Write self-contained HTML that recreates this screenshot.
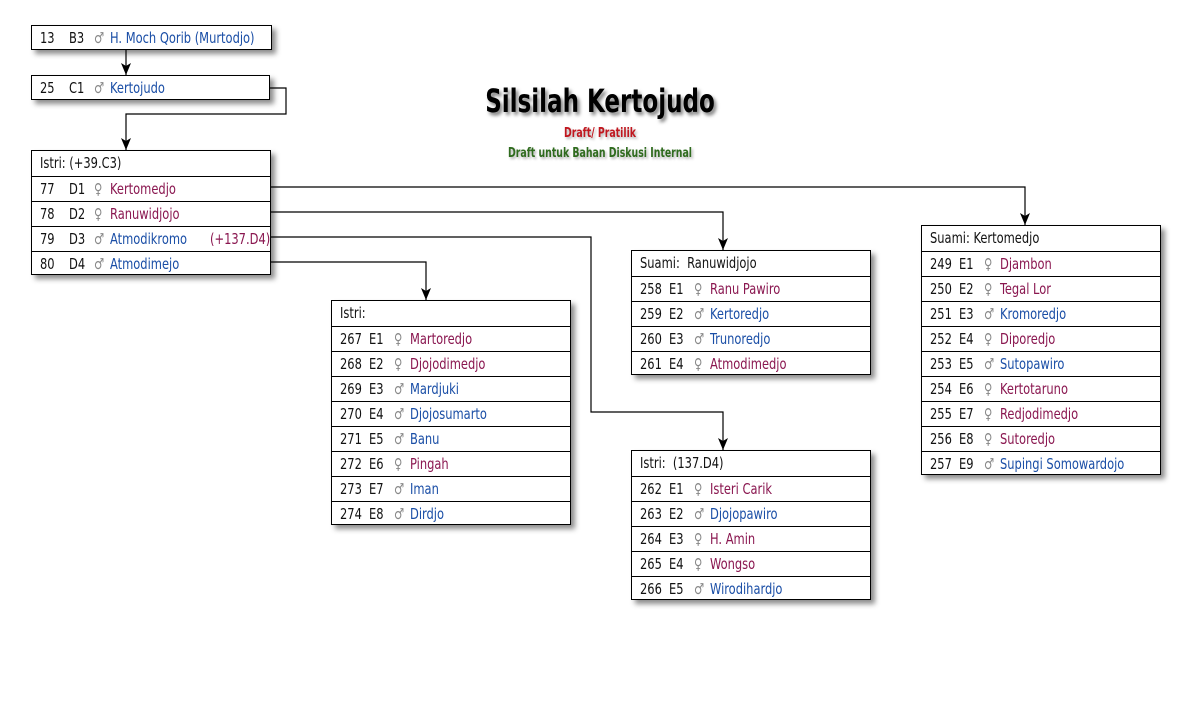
<!DOCTYPE html>
<html><head><meta charset="utf-8"><style>
body{margin:0;width:1200px;height:725px;background:#fff;position:relative;overflow:hidden;font-family:"DejaVu Sans Condensed","Liberation Sans Narrow","Liberation Sans",sans-serif;font-size:13px;}
.b{position:absolute;border:1px solid #000;background:#fff;box-shadow:4px 4px 5px rgba(0,0,0,.45);box-sizing:border-box;}
.r{height:25px;line-height:24px;border-top:1px solid #000;position:relative;white-space:nowrap;color:#111;box-sizing:border-box;}
.r:first-child{border-top:none;}
.r span{position:absolute;font-size:15px;transform:scaleX(.85);transform-origin:left center;}
.n{left:8px}.c{left:37px}.s{left:62px;color:#888}.nm{left:78px}
.m{color:#1a4ea6}.f{color:#8a1750}
.hh{left:8px}
svg{position:absolute;left:0;top:0}
.t{position:absolute;text-align:center;width:400px;left:400px;font-weight:bold}
</style></head><body>
<svg width="1200" height="725">
<defs><marker id="a" markerWidth="12" markerHeight="10" refX="12" refY="5" orient="auto" markerUnits="userSpaceOnUse"><path d="M0,0 L12,5 L0,10 L3,5 Z" fill="#000"/></marker></defs>
<g fill="none" stroke="#000" stroke-width="1.2">
<path d="M126,49 V75" marker-end="url(#a)"/>
<path d="M269,88 H286 V114 H126 V150" marker-end="url(#a)"/>
<path d="M270,187 H1025 V225" marker-end="url(#a)"/>
<path d="M270,212 H723 V250" marker-end="url(#a)"/>
<path d="M270,237 H591 V412 H723 V450" marker-end="url(#a)"/>
<path d="M270,262 H426 V300" marker-end="url(#a)"/>
</g></svg>
<div class="t" style="top:82px;font-size:32px;text-shadow:3px 3px 4px rgba(0,0,0,.5);transform:scaleX(0.8)">Silsilah Kertojudo</div>
<div class="t" style="top:126px;font-size:13px;color:#c0171f;text-shadow:2px 2px 3px rgba(0,0,0,.3);transform:scaleX(0.8)">Draft/ Pratilik</div>
<div class="t" style="top:146px;font-size:13px;color:#2f6b1e;text-shadow:2px 2px 3px rgba(0,0,0,.3);transform:scaleX(0.8)">Draft untuk Bahan Diskusi Internal</div>

<div class="b" style="left:31px;top:25px;width:241px;height:25px"><div class="r"><span class="n">13</span><span class="c">B3</span><span class="s">♂</span><span class="nm m">H. Moch Qorib (Murtodjo)</span></div></div>
<div class="b" style="left:31px;top:75px;width:239px;height:25px"><div class="r"><span class="n">25</span><span class="c">C1</span><span class="s">♂</span><span class="nm m">Kertojudo</span></div></div>

<div class="b" style="left:31px;top:150px;width:240px;height:125px">
<div class="r"><span class="hh">Istri: (+39.C3)</span></div>
<div class="r"><span class="n">77</span><span class="c">D1</span><span class="s">♀</span><span class="nm f">Kertomedjo</span></div>
<div class="r"><span class="n">78</span><span class="c">D2</span><span class="s">♀</span><span class="nm f">Ranuwidjojo</span></div>
<div class="r"><span class="n">79</span><span class="c">D3</span><span class="s">♂</span><span class="nm m">Atmodikromo</span><span class="f" style="left:178px">(+137.D4)</span></div>
<div class="r"><span class="n">80</span><span class="c">D4</span><span class="s">♂</span><span class="nm m">Atmodimejo</span></div>
</div>

<div class="b" style="left:331px;top:300px;width:240px;height:225px">
<div class="r"><span class="hh">Istri:</span></div>
<div class="r"><span class="n">267</span><span class="c">E1</span><span class="s">♀</span><span class="nm f">Martoredjo</span></div>
<div class="r"><span class="n">268</span><span class="c">E2</span><span class="s">♀</span><span class="nm f">Djojodimedjo</span></div>
<div class="r"><span class="n">269</span><span class="c">E3</span><span class="s">♂</span><span class="nm m">Mardjuki</span></div>
<div class="r"><span class="n">270</span><span class="c">E4</span><span class="s">♂</span><span class="nm m">Djojosumarto</span></div>
<div class="r"><span class="n">271</span><span class="c">E5</span><span class="s">♂</span><span class="nm m">Banu</span></div>
<div class="r"><span class="n">272</span><span class="c">E6</span><span class="s">♀</span><span class="nm f">Pingah</span></div>
<div class="r"><span class="n">273</span><span class="c">E7</span><span class="s">♂</span><span class="nm m">Iman</span></div>
<div class="r"><span class="n">274</span><span class="c">E8</span><span class="s">♂</span><span class="nm m">Dirdjo</span></div>
</div>

<div class="b" style="left:631px;top:250px;width:240px;height:125px">
<div class="r"><span class="hh">Suami:&nbsp; Ranuwidjojo</span></div>
<div class="r"><span class="n">258</span><span class="c">E1</span><span class="s">♀</span><span class="nm f">Ranu Pawiro</span></div>
<div class="r"><span class="n">259</span><span class="c">E2</span><span class="s">♂</span><span class="nm m">Kertoredjo</span></div>
<div class="r"><span class="n">260</span><span class="c">E3</span><span class="s">♂</span><span class="nm m">Trunoredjo</span></div>
<div class="r"><span class="n">261</span><span class="c">E4</span><span class="s">♀</span><span class="nm f">Atmodimedjo</span></div>
</div>

<div class="b" style="left:631px;top:450px;width:240px;height:150px">
<div class="r"><span class="hh">Istri:&nbsp; (137.D4)</span></div>
<div class="r"><span class="n">262</span><span class="c">E1</span><span class="s">♀</span><span class="nm f">Isteri Carik</span></div>
<div class="r"><span class="n">263</span><span class="c">E2</span><span class="s">♂</span><span class="nm m">Djojopawiro</span></div>
<div class="r"><span class="n">264</span><span class="c">E3</span><span class="s">♀</span><span class="nm f">H. Amin</span></div>
<div class="r"><span class="n">265</span><span class="c">E4</span><span class="s">♀</span><span class="nm f">Wongso</span></div>
<div class="r"><span class="n">266</span><span class="c">E5</span><span class="s">♂</span><span class="nm m">Wirodihardjo</span></div>
</div>

<div class="b" style="left:921px;top:225px;width:240px;height:250px">
<div class="r"><span class="hh">Suami: Kertomedjo</span></div>
<div class="r"><span class="n">249</span><span class="c">E1</span><span class="s">♀</span><span class="nm f">Djambon</span></div>
<div class="r"><span class="n">250</span><span class="c">E2</span><span class="s">♀</span><span class="nm f">Tegal Lor</span></div>
<div class="r"><span class="n">251</span><span class="c">E3</span><span class="s">♂</span><span class="nm m">Kromoredjo</span></div>
<div class="r"><span class="n">252</span><span class="c">E4</span><span class="s">♀</span><span class="nm f">Diporedjo</span></div>
<div class="r"><span class="n">253</span><span class="c">E5</span><span class="s">♂</span><span class="nm m">Sutopawiro</span></div>
<div class="r"><span class="n">254</span><span class="c">E6</span><span class="s">♀</span><span class="nm f">Kertotaruno</span></div>
<div class="r"><span class="n">255</span><span class="c">E7</span><span class="s">♀</span><span class="nm f">Redjodimedjo</span></div>
<div class="r"><span class="n">256</span><span class="c">E8</span><span class="s">♀</span><span class="nm f">Sutoredjo</span></div>
<div class="r"><span class="n">257</span><span class="c">E9</span><span class="s">♂</span><span class="nm m">Supingi Somowardojo</span></div>
</div>
</body></html>
